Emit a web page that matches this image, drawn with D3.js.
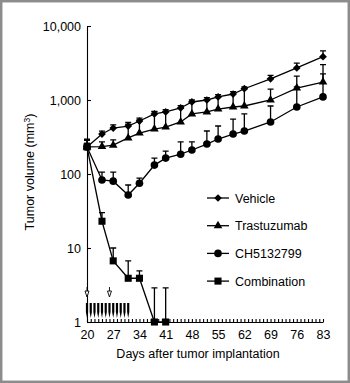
<!DOCTYPE html>
<html>
<head>
<meta charset="utf-8">
<script src="https://cdn.jsdelivr.net/npm/d3@7"></script>
<style>
  body { margin: 0; background: #fff; }
  text { font-family: "Liberation Sans", Arial, sans-serif; }
</style>
</head>
<body>
<div id="chart"></div>
<script>
// data
const days = [20, 24, 27, 31, 34, 38, 41, 45, 48, 52, 55, 59, 62, 69, 76, 83];
const vehicle    = [232, 347, 418, 445, 520, 648, 689, 780, 940, 1000, 1100, 1205, 1420, 1930, 2710, 3850];
const vehicleErr = [295, 380, 460, 500, 570, 700, 740, 840, 1000, 1080, 1180, 1300, 1500, 2150, 3150, 4600];
const trast      = [232, 235, 245, 307, 357, 405, 430, 505, 648, 689, 755, 804, 830, 1000, 1450, 1750];
const trastErr   = [285, 271, 290, 470, 540, 690, 700, 780, 940, 1000, 1100, 1200, 1420, 1400, 2100, 3000];
const ch         = [232, 83, 80, 52, 75, 132, 164, 185, 211, 254, 297, 347, 381, 505, 804, 1100];
const chErr      = [260, 106, 106, 71, 88, 164, 204, 271, 271, 381, 445, 550, 648, 830, 1500, 2250];
const comboDays  = [20, 24, 27, 31, 34, 38, 41];
const combo      = [232, 23, 6.7, 3.9, 3.9, 1, 1];
const comboErr   = [260, 30, 10, 6.7, 4.9, 2.9, 2.9];

const seriesNames = ["Vehicle", "Trastuzumab", "CH5132799", "Combination"];
const yTicks = [1, 10, 100, 1000, 10000];
const xLabelDays = [20, 27, 34, 41, 48, 55, 62, 69, 76, 83];
const trastDoseDays = [20, 26];
const chDoseDays = [20, 21, 22, 23, 24, 25, 26, 27, 28, 29, 30, 31];

const width = 350, height = 383;

const svg = d3.select("#chart").append("svg")
	.attr("width", width)
	.attr("height", height);

// grey frame
svg.append("rect")
	.attr("x", 1.2).attr("y", 1.2)
	.attr("width", width - 2.4).attr("height", height - 2.4)
	.attr("fill", "none")
	.attr("stroke", "#8c8c8c")
	.attr("stroke-width", 2.5);

const x = d3.scaleLinear().domain([20, 83]).range([87, 323]);
const y = d3.scaleLog().domain([1, 10000]).range([322, 26]);

// axes
const xAxis = svg.append("g")
	.attr("transform", `translate(0,${y(1)})`)
	.call(d3.axisBottom(x)
		.tickValues(d3.range(20, 84))
		.tickSizeInner(-3)
		.tickSizeOuter(0)
		.tickPadding(8)
		.tickFormat(d => xLabelDays.includes(d) ? d : ""));

const yAxis = svg.append("g")
	.attr("transform", `translate(${x(20)},0)`)
	.call(d3.axisLeft(y)
		.tickValues(yTicks)
		.tickSizeInner(-4)
		.tickSizeOuter(0)
		.tickPadding(6)
		.tickFormat(d3.format(",")));

svg.selectAll(".domain, .tick line").attr("stroke", "#000").attr("stroke-width", 1.1);
svg.selectAll(".tick text").attr("font-size", 12.5).attr("fill", "#000")
	.style("font-family", "'Liberation Sans', Arial, sans-serif");

// axis titles
svg.append("text")
	.attr("x", 198).attr("y", 358)
	.attr("text-anchor", "middle")
	.attr("font-size", 12.5)
	.text("Days after tumor implantation");

svg.append("text")
	.attr("transform", "translate(34,172) rotate(-90)")
	.attr("text-anchor", "middle")
	.attr("font-size", 12.5)
	.html("Tumor volume (mm<tspan dy='-4' font-size='8.5'>3</tspan><tspan dy='4'>)</tspan>");

// dose markers
const doseG = svg.append("g");
doseG.selectAll(".chDose").data(chDoseDays).enter().append("path")
	.attr("class", "chDose")
	.attr("d", d => {
		const cx = x(d);
		return `M${cx - 1.1},303 L${cx + 1.1},303 L${cx + 1.1},312 L${cx},318 L${cx - 1.1},312 Z`;
	})
	.attr("fill", "#000");

doseG.selectAll(".trDose").data(trastDoseDays).enter().append("path")
	.attr("class", "trDose")
	.attr("d", d => {
		const cx = x(d);
		return `M${cx},287 L${cx},291 M${cx - 2},291 L${cx + 2},291 L${cx},297 Z`;
	})
	.attr("fill", "#fff")
	.attr("stroke", "#000")
	.attr("stroke-width", 0.9);

// series
const series = [
	{name: seriesNames[0], days: days, vals: vehicle, err: vehicleErr, sym: "diamond"},
	{name: seriesNames[1], days: days, vals: trast, err: trastErr, sym: "triangle"},
	{name: seriesNames[2], days: days, vals: ch, err: chErr, sym: "circle"},
	{name: seriesNames[3], days: comboDays, vals: combo, err: comboErr, sym: "square"}
];

function symbolPath(s) {
	if (s === "diamond") return d3.symbol(d3.symbolSquare, 30)();
	if (s === "triangle") return d3.symbol(d3.symbolTriangle, 32)();
	if (s === "circle") return d3.symbol(d3.symbolCircle, 46)();
	return d3.symbol(d3.symbolSquare, 50)();
}
function symbolRot(s) { return s === "diamond" ? " rotate(45)" : ""; }

const line = d3.line().x(d => x(d[0])).y(d => y(d[1]));

series.forEach(s => {
	const pts = s.days.map((d, i) => [d, s.vals[i], s.err[i]]);
	const g = svg.append("g");

	g.append("path")
		.datum(pts)
		.attr("d", line)
		.attr("fill", "none")
		.attr("stroke", "#000")
		.attr("stroke-width", 1.3);

	g.selectAll(".err").data(pts).enter().append("path")
		.attr("d", d => `M${x(d[0])},${y(d[1])} L${x(d[0])},${y(d[2])} M${x(d[0]) - 3},${y(d[2])} L${x(d[0]) + 3},${y(d[2])}`)
		.attr("stroke", "#000")
		.attr("stroke-width", 1.3)
		.attr("fill", "none");

	g.selectAll(".pt").data(pts).enter().append("path")
		.attr("d", symbolPath(s.sym))
		.attr("transform", d => `translate(${x(d[0])},${y(d[1])})${symbolRot(s.sym)}`)
		.attr("fill", "#000");
});

// legend
const legend = svg.append("g");
series.forEach((s, i) => {
	const ly = 198 + i * 27.7;
	legend.append("line")
		.attr("x1", 207).attr("x2", 229)
		.attr("y1", ly).attr("y2", ly)
		.attr("stroke", "#000").attr("stroke-width", 1.3);
	legend.append("path")
		.attr("d", symbolPath(s.sym))
		.attr("transform", `translate(218,${ly})${symbolRot(s.sym)}`)
		.attr("fill", "#000");
	legend.append("text")
		.attr("x", 235).attr("y", ly + 4.5)
		.attr("font-size", 12.5)
		.text(s.name);
});
</script>
</body>
</html>
